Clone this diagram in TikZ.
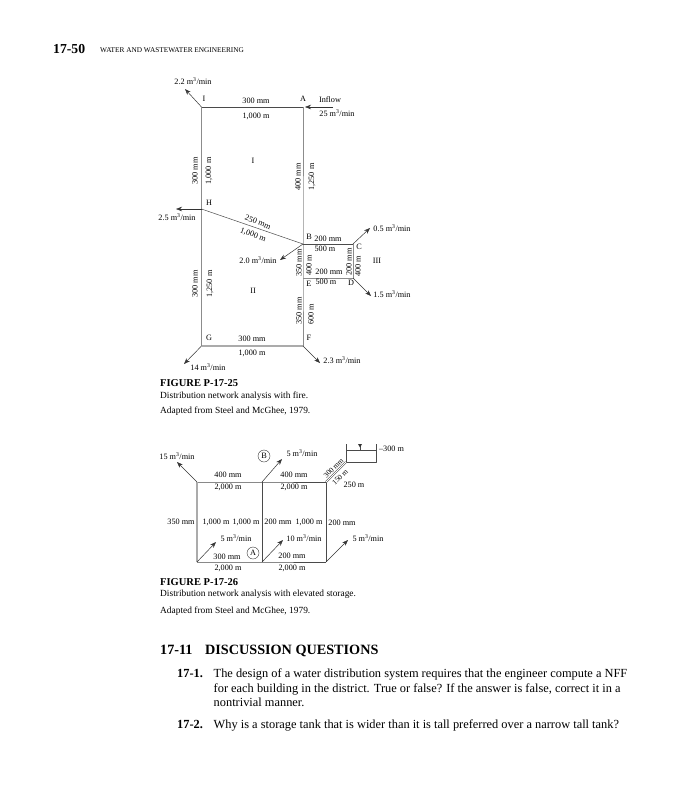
\documentclass[tikz,border=0pt]{standalone}
\usepackage{fontspec}
\setmainfont{Liberation Serif}
\usetikzlibrary{arrows.meta}

\definecolor{pipedark}{HTML}{4A4A4A}
\definecolor{pipemid}{HTML}{8C8C8C}
\definecolor{pipelight}{HTML}{ABABAB}

\newcommand{\cum}{m\textsuperscript{3}/min}

\tikzset{
  lbl/.style={inner sep=0pt,font=\fontsize{8.2}{9}\selectfont},
  vlbl/.style={lbl,rotate=90},
  risertxt/.style={inner sep=0pt,rotate=45,font=\fontsize{7.4}{8}\selectfont},
  txt/.style={inner sep=0pt,anchor=base west,font=\fontsize{9.4}{10}\selectfont},
  figtitle/.style={inner sep=0pt,anchor=base west,font=\fontsize{10.5}{11}\selectfont\bfseries},
  body/.style={inner sep=0pt,anchor=base west,font=\fontsize{12.38}{14}\selectfont},
  bodyhead/.style={body,font=\fontsize{12.38}{14}\selectfont\bfseries},
  sectitle/.style={inner sep=0pt,anchor=base west,font=\fontsize{14.2}{16}\selectfont\bfseries},
  pipe/.style={draw=pipedark,line width=0.7pt},
  pipethin/.style={draw=pipedark,line width=0.5pt},
  pipegrey/.style={draw=pipemid,line width=0.9pt},
  pipelite/.style={draw=pipelight,line width=1.2pt},
  flow/.style={draw=black!80,line width=0.5pt,-{Stealth[length=6pt,width=4.5pt]}},
  loopmark/.style={lbl,draw=black!80,circle,line width=0.4pt,minimum size=12pt}
}

\begin{document}
\begin{tikzpicture}[x=1pt,y=-1pt,line join=round]
  % Fix the page to the size of the scan.
  \useasboundingbox (0,0) rectangle (689,800);

  % Running head.
  \node[inner sep=0pt,anchor=base west,font=\fontsize{13.7}{15}\selectfont\bfseries] (folio) at (53,53) {17-50};
  \node[inner sep=0pt,anchor=base west,font=\fontsize{7.3}{8}\selectfont] (runhead) at (100,52.5) {WATER AND WASTEWATER ENGINEERING};

  % First network: junctions.
  \coordinate (I) at (201.5,107);
  \coordinate (A) at (303,107);
  \coordinate (H) at (201.5,209);
  \coordinate (B) at (303,244);
  \coordinate (C) at (353,244);
  \coordinate (D) at (353,278);
  \coordinate (E) at (303,278);
  \coordinate (F) at (303,346);
  \coordinate (G) at (201.5,346);

  % Free ends of the flow arrows.
  \coordinate (Iout) at (185,89);
  \coordinate (Ain) at (333,107);
  \coordinate (Ahead) at (305,107);
  \coordinate (Hout) at (176,209);
  \coordinate (Bout) at (280,260);
  \coordinate (Cout) at (370,228);
  \coordinate (Dout) at (371,296);
  \coordinate (Fout) at (320,363);
  \coordinate (Gout) at (184,364);

  % Pipes.
  \draw[pipe] (I) -- (A);
  \draw[pipegrey] (A) -- (B) -- (E) -- (F);
  \draw[pipegrey] (I) -- (H) -- (G);
  \draw[pipethin] (H) -- (B);
  \draw[pipe] (B) -- (C);
  \draw[pipegrey] (C) -- (D) -- (E);
  \draw[pipelite] (G) -- (F);

  % Flows.
  \draw[flow] (I) -- (Iout);
  \draw[flow] (Ain) -- (Ahead);
  \draw[flow] (H) -- (Hout);
  \draw[flow] (B) -- (Bout);
  \draw[flow] (C) -- (Cout);
  \draw[flow] (D) -- (Dout);
  \draw[flow] (F) -- (Fout);
  \draw[flow] (G) -- (Gout);

  % First network: labels.
  \node[lbl] (qI) at (193,81) {2.2 \cum};
  \node[lbl] (nI) at (204,99) {I};
  \node[lbl] (dIA) at (256,101) {300 mm};
  \node[lbl] (lIA) at (256,116) {1,000 m};
  \node[lbl] (nA) at (303,99) {A};
  \node[lbl] (inflow) at (330,100) {Inflow};
  \node[lbl] (qA) at (337,113) {25 \cum};
  \node[vlbl] (dIH) at (195,171) {300 mm};
  \node[vlbl] (lIH) at (209,171) {1,000 m};
  \node[lbl] (loopI) at (253,161) {I};
  \node[vlbl] (dAB) at (298,177) {400 mm};
  \node[vlbl] (lAB) at (312,177) {1,250 m};
  \node[lbl] (nH) at (209,203) {H};
  \node[lbl] (qH) at (177,217) {2.5 \cum};
  \node[lbl,rotate=-21] (dHB) at (258,222) {250 mm};
  \node[lbl,rotate=-21] (lHB) at (253,235) {1,000 m};
  \node[lbl] (nB) at (309,237) {B};
  \node[lbl] (dBC) at (328,239) {200 mm};
  \node[lbl] (lBC) at (325,249) {500 m};
  \node[lbl] (nC) at (359,247) {C};
  \node[lbl] (qC) at (392,228) {0.5 \cum};
  \node[lbl] (qB) at (258,260) {2.0 \cum};
  \node[vlbl] (dBE) at (299,263) {350 mm};
  \node[vlbl] (lBE) at (309,265) {400 m};
  \node[vlbl] (dCD) at (349,262) {200 mm};
  \node[vlbl] (lCD) at (358,266) {400 m};
  \node[lbl] (loopIII) at (377,261) {III};
  \node[lbl] (dED) at (329,272) {200 mm};
  \node[lbl] (nE) at (309,284) {E};
  \node[lbl] (lED) at (326,282) {500 m};
  \node[lbl] (nD) at (351,283) {D};
  \node[lbl] (qD) at (392,294) {1.5 \cum};
  \node[lbl] (loopII) at (253,291) {II};
  \node[vlbl] (dHG) at (195,284) {300 mm};
  \node[vlbl] (lHG) at (210,284) {1,250 m};
  \node[vlbl] (dEF) at (299,311) {350 mm};
  \node[vlbl] (lEF) at (311,314) {600 m};
  \node[lbl] (nG) at (209,338) {G};
  \node[lbl] (nF) at (309,338) {F};
  \node[lbl] (dGF) at (252,339) {300 mm};
  \node[lbl] (lGF) at (252,353) {1,000 m};
  \node[lbl] (qG) at (208,367) {14 \cum};
  \node[lbl] (qF) at (342,360) {2.3 \cum};

  % First caption.
  \node[figtitle] (figA) at (160,386.5) {FIGURE P-17-25};
  \node[txt] (capA) at (160,398) {Distribution network analysis with fire.};
  \node[txt] (srcA) at (160,413) {Adapted from Steel and McGhee, 1979.};

  % Second network: junctions.
  \coordinate (tl) at (197,482);
  \coordinate (tm) at (262,482);
  \coordinate (tr) at (326,482);
  \coordinate (bl) at (197,562);
  \coordinate (bm) at (262,562);
  \coordinate (br) at (326,562);
  \coordinate (tlout) at (177,462);
  \coordinate (tmout) at (282,459);
  \coordinate (blout) at (216,542);
  \coordinate (bmout) at (283,540);
  \coordinate (brout) at (348,540);

  % Storage tank.
  \coordinate (tankA) at (346,444);
  \coordinate (tankB) at (346,462);
  \coordinate (tankC) at (376,462);
  \coordinate (tankD) at (376,444);
  \coordinate (waterA) at (346,450);
  \coordinate (waterB) at (376,450);
  \coordinate (waterT) at (360,450);
  \coordinate (markT) at (360,444);
  \draw[pipe] (tankA) -- (tankB) -- (tankC) -- (tankD);
  \draw[pipethin] (waterA) -- (waterB);
  \draw[pipethin] (markT) -- (waterT);
  \fill[black!80] (358,444) -- (362,444) -- (360,447.5) -- cycle;

  % Pipes and the double riser.
  \draw[pipe] (tl) -- (tm) -- (tr);
  \draw[pipe] (tm) -- (bm);
  \draw[pipe] (tr) -- (br);
  \draw[pipe] (bl) -- (bm) -- (br);
  \draw[pipelite] (tl) -- (bl);
  \draw[pipethin,double=white,double distance=1pt,line width=0.4pt] (tr) -- (tankB);

  % Flows.
  \draw[flow] (tl) -- (tlout);
  \draw[flow] (tm) -- (tmout);
  \draw[flow] (bl) -- (blout);
  \draw[flow] (bm) -- (bmout);
  \draw[flow] (br) -- (brout);

  % Second network: labels.
  \node[lbl] (qtl) at (177,456) {15 \cum};
  \node[loopmark] (loopB) at (264,456) {B};
  \node[lbl] (qtm) at (302,453) {5 \cum};
  \node[lbl] (dtl) at (228,475) {400 mm};
  \node[lbl] (ltl) at (228,487) {2,000 m};
  \node[lbl] (dtr) at (294,475) {400 mm};
  \node[lbl] (ltr) at (294,487) {2,000 m};
  \node[risertxt] (drise) at (333.5,468) {300 mm};
  \node[risertxt] (lrise) at (340,477) {150 m};
  \node[lbl] (elev) at (354,485) {250 m};
  \node[lbl] (level) at (391.5,449) {--300 m};
  \node[lbl] (dleft) at (181,522) {350 mm};
  \node[lbl] (lleft) at (216,522) {1,000 m};
  \node[lbl] (lmida) at (246,522) {1,000 m};
  \node[lbl] (dmid) at (278,522) {200 mm};
  \node[lbl] (lmidb) at (309,522) {1,000 m};
  \node[lbl] (dright) at (342,523) {200 mm};
  \node[lbl] (qbl) at (236,538) {5 \cum};
  \node[lbl] (qbm) at (304,538) {10 \cum};
  \node[lbl] (qbr) at (368,538) {5 \cum};
  \node[loopmark] (loopA) at (253,553) {A};
  \node[lbl] (dbl) at (227,557) {300 mm};
  \node[lbl] (lenbl) at (228,568) {2,000 m};
  \node[lbl] (dbr) at (292,556) {200 mm};
  \node[lbl] (lenbr) at (292,568) {2,000 m};

  % Second caption.
  \node[figtitle] (figB) at (160,585.5) {FIGURE P-17-26};
  \node[txt] (capB) at (160,596) {Distribution network analysis with elevated storage.};
  \node[txt] (srcB) at (160,613) {Adapted from Steel and McGhee, 1979.};

  % Questions set line by line.
  \node[sectitle] (secnum) at (160,654) {17-11};
  \node[sectitle] (sechead) at (205,654) {DISCUSSION QUESTIONS};
  \node[bodyhead] (qone) at (177,677.5) {17-1.};
  \node[body] (qoneA) at (213.5,677.5) {The design of a water distribution system requires that the engineer compute a NFF};
  \node[body] (qoneB) at (213.5,692) {for each building in the district. True or false? If the answer is false, correct it in a};
  \node[body] (qoneC) at (213.5,706) {nontrivial manner.};
  \node[bodyhead] (qtwo) at (177,728) {17-2.};
  \node[body] (qtwoA) at (213.5,728) {Why is a storage tank that is wider than it is tall preferred over a narrow tall tank?};
\end{tikzpicture}
\end{document}
